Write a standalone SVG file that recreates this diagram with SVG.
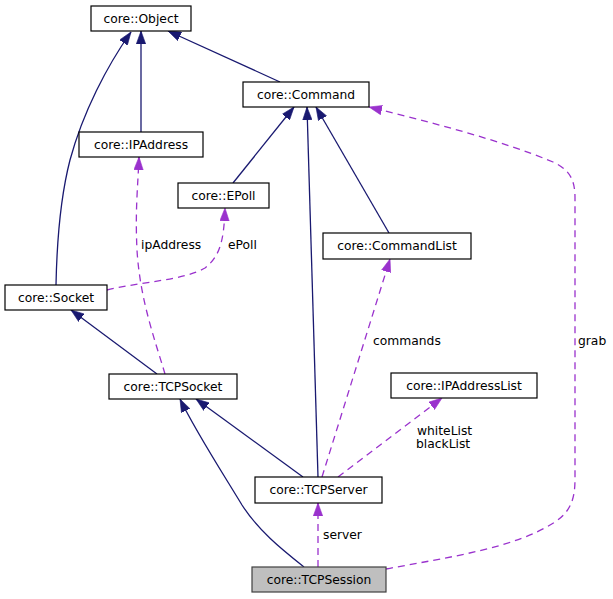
<svg xmlns="http://www.w3.org/2000/svg" width="613" height="599" viewBox="0 0 613 599">
<style>
  .box rect { fill: #ffffff; stroke: #000000; stroke-width: 1.2; }
  .box.cur rect { fill: #bfbfbf; stroke: #404040; }
  .box text { font-family: "DejaVu Sans", sans-serif; font-size: 12.3px; fill: #000000; text-anchor: middle; }
  .inh { fill: none; stroke: #191970; stroke-width: 1.3; marker-end: url(#ah); }
  .use { fill: none; stroke: #9a32cd; stroke-width: 1.3; stroke-dasharray: 7,5; marker-end: url(#au); }
  .lbl { font-family: "DejaVu Sans", sans-serif; font-size: 12.3px; fill: #000000; }
</style>
<defs>
  <marker id="ah" markerUnits="userSpaceOnUse" markerWidth="14" markerHeight="10" refX="13" refY="5" orient="auto" viewBox="0 0 14 10">
    <path d="M0,0.3 L13,5 L0,9.7 z" fill="#191970" stroke="#191970" stroke-width="0.6"/>
  </marker>
  <marker id="au" markerUnits="userSpaceOnUse" markerWidth="14" markerHeight="10" refX="13" refY="5" orient="auto" viewBox="0 0 14 10">
    <path d="M0,0.3 L13,5 L0,9.7 z" fill="#9a32cd" stroke="#9a32cd" stroke-width="0.6"/>
  </marker>
</defs>
<rect width="613" height="599" fill="#ffffff"/>
<g id="connectors">
  <path class="inh" d="M56,285 C57,235 61,195 70,160 C83,112 107,66 131,32"/>
  <path class="inh" d="M141,132 L141,31"/>
  <path class="inh" d="M280,82 L168,31"/>
  <path class="inh" d="M233,183 L294,107"/>
  <path class="inh" d="M318,477 L307,107"/>
  <path class="inh" d="M389,233 L316,107"/>
  <path class="use" d="M386,569 C450,557 515,548 555,522 C573,510 575,495 575,478 L575,198 C575,180 570,170 553,162 C500,140 430,122 369,107"/>
  <path class="use" d="M165,374 C155,340 140,300 137,250 C135,210 138,185 139,157"/>
  <path class="use" d="M107,290 C140,282 185,280 205,268 C222,255 224,235 225,208"/>
  <path class="inh" d="M157,374 L71,310"/>
  <path class="use" d="M322,477 L390,259"/>
  <path class="use" d="M338,477 L442,398"/>
  <path class="inh" d="M303,477 L196,399"/>
  <path class="inh" d="M304,567 C280,548 258,530 242,505 C222,472 196,432 180,399"/>
  <path class="use" d="M318,567 L318,503"/>
  <text class="lbl" x="578" y="345">grab</text>
  <text class="lbl" x="141" y="249">ipAddress</text>
  <text class="lbl" x="228" y="249">ePoll</text>
  <text class="lbl" x="373" y="345">commands</text>
  <text class="lbl" x="417" y="435">whiteList</text>
  <text class="lbl" x="416" y="448">blackList</text>
  <text class="lbl" x="323" y="539">server</text>
</g>
<g id="node_Object" class="box"><rect x="91" y="6" width="100" height="25"/><text x="141" y="23">core::Object</text></g>
<g id="node_Command" class="box"><rect x="243" y="82" width="126" height="25"/><text x="306" y="99">core::Command</text></g>
<g id="node_IPAddress" class="box"><rect x="79" y="132" width="124" height="25"/><text x="141" y="149">core::IPAddress</text></g>
<g id="node_EPoll" class="box"><rect x="178" y="183" width="91" height="25"/><text x="223.5" y="200">core::EPoll</text></g>
<g id="node_Socket" class="box"><rect x="5" y="285" width="102" height="25"/><text x="56" y="302">core::Socket</text></g>
<g id="node_CommandList" class="box"><rect x="323" y="233" width="148" height="26"/><text x="397" y="250">core::CommandList</text></g>
<g id="node_IPAddressList" class="box"><rect x="391" y="373" width="146" height="25"/><text x="464" y="390">core::IPAddressList</text></g>
<g id="node_TCPSocket" class="box"><rect x="109" y="374" width="128" height="25"/><text x="173" y="391">core::TCPSocket</text></g>
<g id="node_TCPServer" class="box"><rect x="255" y="477" width="127" height="26"/><text x="318.5" y="494">core::TCPServer</text></g>
<g id="node_TCPSession" class="box cur"><rect x="252" y="567" width="134" height="25"/><text x="319" y="584">core::TCPSession</text></g>
</svg>
